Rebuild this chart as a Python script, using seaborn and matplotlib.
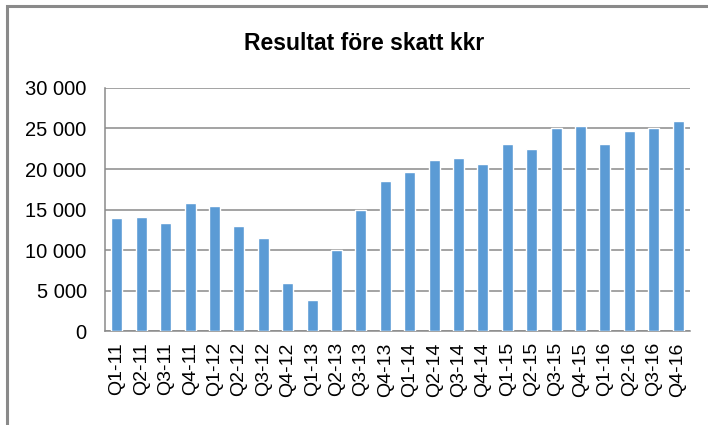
import numpy as np
import pandas as pd
import seaborn as sns
import matplotlib.pyplot as plt
from matplotlib.ticker import FuncFormatter
from matplotlib.patches import Rectangle

# quarterly result before tax (kkr)
quarters = ["Q1-11", "Q2-11", "Q3-11", "Q4-11", "Q1-12", "Q2-12", "Q3-12", "Q4-12",
            "Q1-13", "Q2-13", "Q3-13", "Q4-13", "Q1-14", "Q2-14", "Q3-14", "Q4-14",
            "Q1-15", "Q2-15", "Q3-15", "Q4-15", "Q1-16", "Q2-16", "Q3-16", "Q4-16"]
result = [14000, 14100, 13300, 15800, 15400, 13000, 11500, 5900,
          3800, 10000, 15000, 18500, 19600, 21100, 21400, 20600,
          23100, 22500, 25100, 25300, 23100, 24700, 25100, 25900]
title = "Resultat före skatt kkr"

df = pd.DataFrame({"kvartal": quarters, "resultat": result})

sns.set_style("white")
plt.rcParams["font.family"] = ["Liberation Sans", "DejaVu Sans"]
plt.rcParams["text.color"] = "black"

grey = "#8a8a8a"
fig = plt.figure(figsize=(7.08, 4.25), dpi=100)
ax = fig.add_axes([0.148, 0.221, 0.827, 0.572])

sns.barplot(data=df, x="kvartal", y="resultat", color="#5b9bd5", width=0.45,
            saturation=1, ax=ax, zorder=3)

ax.set_ylim(0, 30000)
ax.set_xlim(-0.5, len(quarters) - 0.5)
ax.set_yticks(np.arange(0, 30001, 5000))
ax.yaxis.set_major_formatter(FuncFormatter(lambda v, p: f"{int(v):,}".replace(",", " ")))
ax.grid(axis="y", color=grey, linewidth=1.1, zorder=0)
ax.set_axisbelow(True)
ax.set_xlabel("")
ax.set_ylabel("")

# ticks between categories
ax.set_xticks(np.arange(-0.5, len(quarters), 1), minor=True)
ax.tick_params(axis="x", which="major", length=0, labelsize=14, rotation=90, pad=8,
               labelcolor="black")
ax.tick_params(axis="x", which="minor", length=6, color=grey, width=1.1)
ax.tick_params(axis="y", length=6, color=grey, width=1.1, labelsize=14.5, pad=7,
               labelcolor="black")

for s in ["top", "right"]:
    ax.spines[s].set_visible(False)
for s in ["left", "bottom"]:
    ax.spines[s].set_color(grey)
    ax.spines[s].set_linewidth(1.1)

fig.text(0.515, 0.898, title, ha="center", va="center", fontsize=16.5,
         fontweight="bold", color="black")

# chart frame (only top and left edges visible in the crop)
fig.patches.append(Rectangle((6.5 / 708, -0.5), 2, 1.5 - 6 / 425, transform=fig.transFigure,
                             fill=False, edgecolor=grey, linewidth=2.2))

fig.savefig("out.png", dpi=100)
